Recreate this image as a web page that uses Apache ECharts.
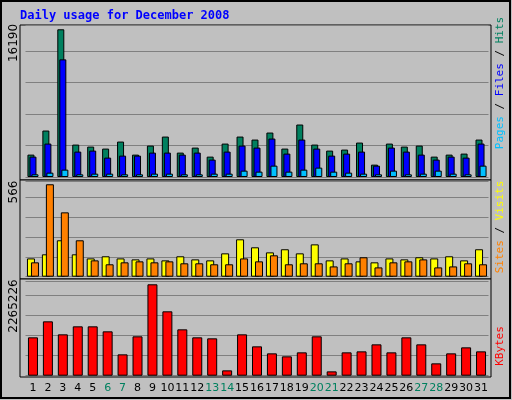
<!DOCTYPE html>
<html>
<head>
    <meta charset="utf-8">
    <title>Daily usage</title>
    <script src="https://cdn.jsdelivr.net/npm/echarts@6/dist/echarts.min.js"></script>
    <style>body{margin:0;background:#c0c0c0}</style>
</head>
<body>
    <div id="main" style="width: 512px;height:400px;"></div>
    <script>
        // values
        var days = [];
        for (var d = 1; d <= 31; d++) days.push(String(d));
        var weekend = ['6', '7', '13', '14', '20', '21', '27', '28'];

        var hits = [2454, 5092, 16190, 3553, 3333, 3114, 3883, 2454, 3443, 4432, 2674, 3223, 2234, 3663, 4432, 4103,
            4872, 3114, 5751, 3553, 2894, 3004, 3773, 1355, 3663, 3333, 3443, 2234, 2454, 2564, 4103];
        var files = [2234, 3663, 12894, 2784, 2894, 2125, 2344, 2344, 2674, 2674, 2454, 2674, 1905, 2784, 3443, 3223,
            4212, 2564, 4103, 3114, 2344, 2564, 2784, 1245, 3223, 2784, 2454, 1905, 2234, 2125, 3663];
        var pages = [293, 476, 806, 293, 366, 366, 293, 293, 366, 366, 293, 293, 366, 366, 696, 586,
            1245, 586, 806, 1026, 586, 476, 366, 293, 696, 293, 366, 696, 366, 293, 1245];
        var visits = [112, 137, 223, 137, 112, 125, 112, 106, 112, 100, 125, 106, 100, 143, 229, 180,
            149, 168, 143, 198, 100, 112, 94, 88, 112, 106, 119, 112, 125, 100, 168];
        var sites = [88, 566, 394, 223, 100, 76, 88, 94, 88, 94, 82, 82, 76, 76, 112, 94,
            131, 76, 82, 82, 63, 82, 119, 57, 88, 94, 106, 57, 63, 82, 76];
        var kbytes = [950700, 1347500, 1025100, 1223500, 1223500, 1099500, 529100, 975500, 2265226, 1595500,
            1149100, 950700, 925900, 132300, 1025100, 727500, 553900, 479500, 578700, 975500, 107500, 578700,
            603500, 777100, 578700, 950700, 777100, 305900, 553900, 702700, 603500];

        var chart = echarts.init(document.getElementById('main'));
        var font = 'DejaVu Sans Mono';

        function grid(top, height) {
            return { left: 25.5, right: 23.5, top: top, height: height };
        }
        function xAxis(i, show) {
            return {
                type: 'category', gridIndex: i, data: days,
                axisLine: { show: false }, axisTick: { show: false },
                axisLabel: {
                    show: show, margin: 7, fontFamily: 'DejaVu Sans', fontSize: 11, interval: 0,
                    color: function (v) { return weekend.indexOf(v) >= 0 ? '#00805f' : '#000'; }
                }
            };
        }
        function yAxis(i, max, interval) {
            return {
                type: 'value', gridIndex: i, min: 0, max: max, interval: interval,
                axisLabel: { show: false },
                splitLine: { lineStyle: { color: '#808080', width: 1 } }
            };
        }
        function bar(name, data, i, color, width, gap) {
            return {
                type: 'bar', name: name, data: data, xAxisIndex: i, yAxisIndex: i,
                barWidth: width, barGap: gap, animation: false,
                itemStyle: { color: color, borderColor: '#000', borderWidth: 1 }
            };
        }
        function panel(y, h) {
            return {
                type: 'rect', z: -1, shape: { x: 20, y: y, width: 471, height: h },
                style: { fill: '#c0c0c0', stroke: '#000', lineWidth: 1 }
            };
        }
        function sideText(x, y, rich, parts) {
            return {
                type: 'text', x: x, y: y, rotation: Math.PI / 2,
                style: { text: parts, rich: rich, align: 'center', verticalAlign: 'middle',
                    font: '11px ' + font }
            };
        }
        function r(c) { return { fill: c, fontFamily: font, fontSize: 11 }; }
        function yText(y, t) {
            return { type: 'text', x: 14, y: y, rotation: Math.PI / 2, style: { text: t,
                font: '12px DejaVu Sans', fill: '#000', align: 'center', verticalAlign: 'middle' } };
        }

        var option = {
            backgroundColor: '#c0c0c0',
            animation: false,
            grid: [grid(25, 152), grid(181, 95.7), grid(281, 94.7)],
            xAxis: [xAxis(0, false), xAxis(1, false), xAxis(2, true)],
            yAxis: [yAxis(0, 16660, 3448), yAxis(1, 586, 122), yAxis(2, 2347000, 495700)],
            series: [
                bar('Hits', hits, 0, '#00805f', 7, '-71%'),
                bar('Files', files, 0, '#0000ff', 7, '-71%'),
                bar('Pages', pages, 0, '#00c0ff', 7, '-71%'),
                bar('Visits', visits, 1, '#ffff00', 8, '-50%'),
                bar('Sites', sites, 1, '#ff8000', 8, '-50%'),
                bar('KBytes', kbytes, 2, '#ff0000', 10, '0%')
            ],
            graphic: [
                { type: 'rect', z: -2, shape: { x: 1, y: 1, width: 509, height: 397 },
                    style: { fill: 'none', stroke: '#000', lineWidth: 2 } },
                panel(25, 155), panel(180, 99), panel(279, 98),
                { type: 'text', x: 20, y: 10, style: { text: 'Daily usage for December 2008',
                    font: 'bold 12px ' + font, fill: '#0000ff' } },
                yText(43, '16190'), yText(192, '566'), yText(306, '2265226'),
                sideText(500, 83, { p: r('#00c0ff'), s: r('#000'), f: r('#0000ff'), h: r('#00805f') },
                    '{p|Pages}{s| / }{f|Files}{s| / }{h|Hits}'),
                sideText(500, 227, { a: r('#ff8000'), s: r('#000'), b: r('#ffff00') },
                    '{a|Sites}{s| / }{b|Visits}'),
                sideText(500, 346, { k: r('#ff0000') }, '{k|KBytes}')
            ]
        };
        chart.setOption(option);
    </script>
</body>
</html>
